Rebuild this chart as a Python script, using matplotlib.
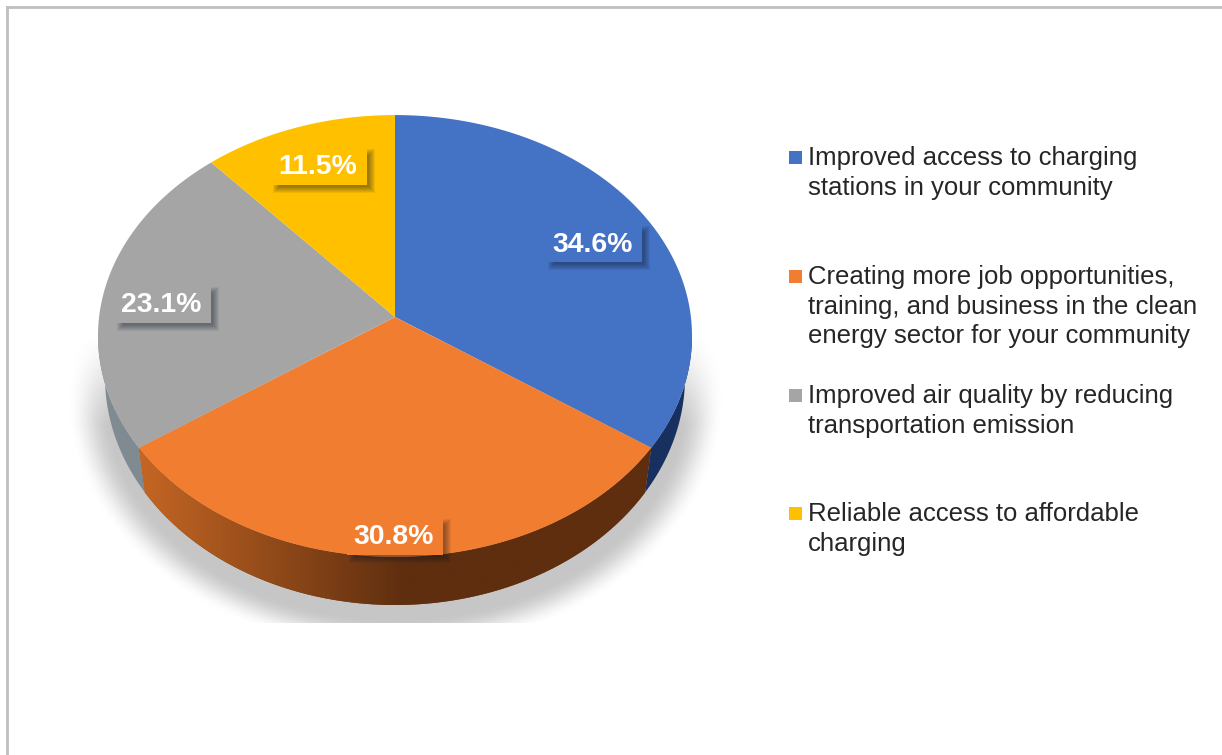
import numpy as np
import matplotlib
matplotlib.use("Agg")
import matplotlib.pyplot as plt
from matplotlib.patches import Polygon, Rectangle

plt.rcParams["font.family"] = ["Liberation Sans", "DejaVu Sans"]

categories = [
    "Improved access to charging\nstations in your community",
    "Creating more job opportunities,\ntraining, and business in the clean\nenergy sector for your community",
    "Improved air quality by reducing\ntransportation emission",
    "Reliable access to affordable\ncharging",
]
shares = [34.6, 30.8, 23.1, 11.5]
colors = ["#4472c4", "#f17e30", "#a5a5a5", "#ffc000"]
side_colors = ["#17305f", "#7a3e14", "#7f8a91", "#7f6000"]
label_pos = [(594, 243), (395, 536), (163, 304), (319, 166)]
legend_y = [158, 277, 396, 514]

W, H = 1222, 755

# pie perspective, everything is in pixels
CX, CY = 395, 317
AX, AY, K = 295.9, 219.3, 0.086
RIM_RX, RIM_CY = 297.0, 336
# lower rim of the extruded side
BOT_CY, BOT_RX, BOT_RY = 377, 290.0, 228.0


def rim(theta):
    x, y = np.sin(theta), np.cos(theta)
    w = 1 + K * y
    return CX + AX * x / w, CY - AY * y / w


def lower_rim(x):
    # lower ellipse point below a rim x position
    dx = (x - CX) * BOT_RX / RIM_RX
    return CX + dx, BOT_CY + BOT_RY * np.sqrt(np.clip(1 - (dx / BOT_RX) ** 2, 0, 1))


fig = plt.figure(figsize=(W / 100, H / 100), dpi=100)
ax = fig.add_axes([0, 0, 1, 1])
ax.set_xlim(0, W)
ax.set_ylim(H, 0)
ax.axis("off")

# frame
ax.plot([7, 7], [H, 7], color="#bfbfbf", lw=2)
ax.plot([7, W], [7, 7], color="#bfbfbf", lw=2)

# soft shadow under the pie, cut flat at the bottom
gx, gy = np.meshgrid(np.arange(60, 740), np.arange(330, 623))
d = np.hypot((gx - 395) / 325.0, (gy - 398) / 250.0)
fade = np.clip((1.01 - d) / 0.13, 0, 1)
fade = fade * fade * (3 - 2 * fade)
fade *= np.clip((gy - 335) / 90.0, 0, 1)
shadow = np.zeros(gx.shape + (4,))
shadow[..., :3] = 0.78
shadow[..., 3] = fade
ax.imshow(shadow, extent=(60, 740, 623, 330), aspect="auto", zorder=1, interpolation="bilinear")

edges = np.cumsum([0] + shares) / sum(shares) * 2 * np.pi

# side walls, with a horizontal shade on the orange one
for i in range(len(shares)):
    t = np.linspace(edges[i], edges[i + 1], 200)
    tx, ty = rim(t)
    keep = ty > RIM_CY
    if not keep.any():
        continue
    bx, by = lower_rim(tx[keep])
    pts = np.r_[np.c_[tx[keep], ty[keep]], np.c_[bx, by][::-1]]
    patch = Polygon(pts, closed=True, fc=side_colors[i], ec="none", zorder=2)
    ax.add_patch(patch)
    if i == 1:
        xs = np.linspace(0, 1, 256)
        c0 = np.array([0xc4, 0x66, 0x24]) / 255
        c1 = np.array([0x5e, 0x2e, 0x0f]) / 255
        m = np.clip(xs / 0.52, 0, 1)[None, :, None]
        grad = c0 + (c1 - c0) * m
        im = ax.imshow(grad, extent=(pts[:, 0].min(), pts[:, 0].max(), pts[:, 1].max(), pts[:, 1].min()),
                       aspect="auto", zorder=2.1)
        im.set_clip_path(patch)

# top face
for i in range(len(shares)):
    t = np.linspace(edges[i], edges[i + 1], 200)
    tx, ty = rim(t)
    ax.add_patch(Polygon(np.r_[[[CX, CY]], np.c_[tx, ty]], closed=True, fc=colors[i], ec="none", zorder=3))

# value labels, box in slice colour over a soft drop shadow
for val, c, (x, y) in zip(shares, colors, label_pos):
    bw, bh = 48, 19
    for grow in np.arange(3, -3.5, -1):
        ax.add_patch(Rectangle((x - bw + 5 - grow, y - bh + 5 - grow), 2 * bw + 2 * grow, 2 * bh + 2 * grow,
                               fc="#101828", ec="none", alpha=0.07, zorder=4))
    ax.add_patch(Rectangle((x - bw, y - bh), 2 * bw, 2 * bh, fc=c, ec="none", zorder=5))
    ax.text(x - 1.5, y + 1.5, f"{val}%", color="white", fontsize=20.4, fontweight="bold",
            ha="center", va="center", zorder=6)

# legend
for name, c, y in zip(categories, colors, legend_y):
    ax.add_patch(Rectangle((789, y - 7), 13, 13, fc=c, ec="none", zorder=3))
    for j, line in enumerate(name.split("\n")):
        ax.text(808, y + j * 29.7, line, color="#262626", fontsize=18.5, ha="left", va="center", zorder=3)

fig.savefig("out.png", dpi=100)
